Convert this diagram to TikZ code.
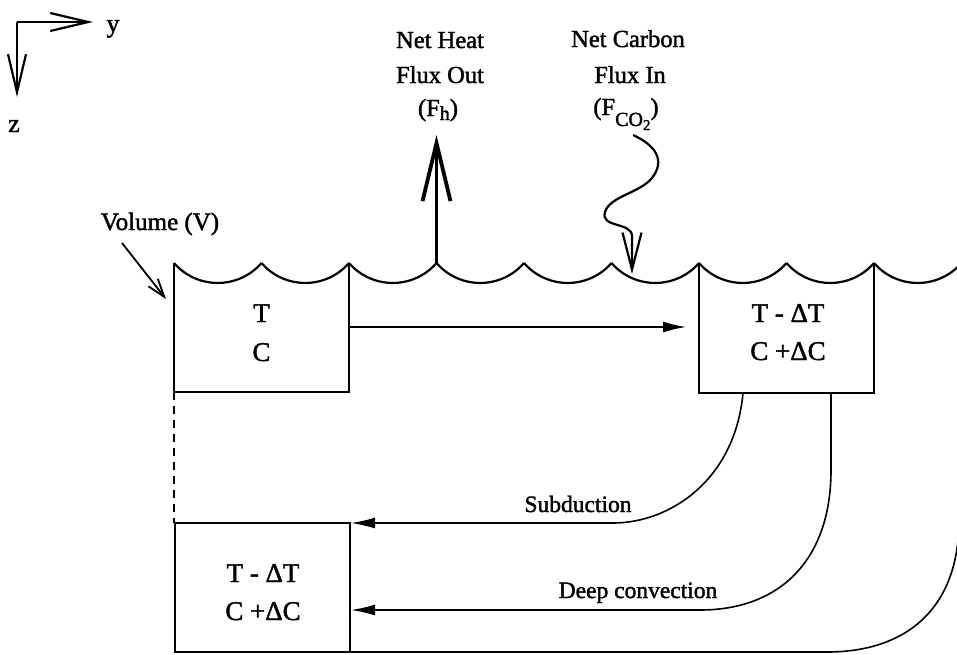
\documentclass[tikz,border=0pt]{standalone}
\usepackage{fontspec}
\setmainfont{Liberation Serif}[BoldFont={Liberation Serif}, BoldFeatures={FakeBold=1.6}]
\usetikzlibrary{arrows.meta}
\tikzset{
  boxline/.style={line width=2.7pt, line join=miter},
  waveline/.style={line width=2.2pt},
  curveline/.style={line width=1.6pt},
  axisarrow/.style={line width=2.2pt, -{Straight Barb[length=38pt,width=18pt]}},
  heatarrow/.style={line width=3.8pt, -{Straight Barb[length=58pt,width=28pt]}},
  carbonarrow/.style={line width=2.2pt, -{Straight Barb[length=37pt,width=19pt]}},
  volarrow/.style={line width=1.8pt, -{Straight Barb[length=18pt,width=12pt]}},
  flowarrow/.style={line width=1.6pt, -{Latex[length=23pt,width=11pt]}},
  toplbl/.style={anchor=base, inner sep=0pt, font=\bfseries\fontsize{24.5}{25}\selectfont},
  boxlbl/.style={anchor=base, inner sep=0pt, font=\bfseries\fontsize{27}{27}\selectfont},
  flowlbl/.style={anchor=base, inner sep=0pt, font=\bfseries\fontsize{23.5}{24}\selectfont},
}
\newcommand{\lowsub}[2]{\raisebox{#1}{\fontsize{20}{20}\selectfont #2}}
\newcommand{\lowsubsub}[2]{\raisebox{#1}{\fontsize{15}{15}\selectfont #2}}
\begin{document}
\begin{tikzpicture}[x=1pt,y=-1pt]
\useasboundingbox (0,0) rectangle (957,654);
\clip (0,0) rectangle (957,654);

% axes
\coordinate (origin) at (17,22);
\coordinate (ytip) at (93,22);
\coordinate (ztip) at (17,97);
\draw[axisarrow] (origin) -- (ytip);
\draw[axisarrow] (origin) -- (ztip);
\node[toplbl, font=\bfseries\fontsize{26}{26}\selectfont] (ylbl) at (113,32) {y};
\node[toplbl, font=\bfseries\fontsize{26}{26}\selectfont] (zlbl) at (14,132) {z};

% sea surface
\foreach \i in {0,...,9} {
  \pgfmathsetmacro{\xa}{174+87.5*\i}
  \draw[waveline] (\xa,263) .. controls (\xa+23.1,289.6) and (\xa+64.4,289.6) .. (\xa+87.5,263);
}
\coordinate (crestheat) at (436.5,263);

% heat flux
\node[toplbl] (heatA) at (440,48) {Net Heat};
\node[toplbl] (heatB) at (440,83) {Flux Out};
\node[toplbl] (heatC) at (438,116) {(F\lowsub{-4pt}{h})};
\coordinate (heattip) at (436.5,135);
\draw[heatarrow] (crestheat) -- (heattip);

% carbon flux
\node[toplbl] (carbA) at (628,47) {Net Carbon};
\node[toplbl] (carbB) at (630,83) {Flux In};
\node[toplbl] (carbC) at (626,115) {(F\lowsub{-11pt}{CO\lowsubsub{-4pt}{2}})};
\coordinate (carbstart) at (633,135);
\coordinate (carbtip) at (632,274);
\draw[carbonarrow] (carbstart) .. controls (655,145) and (666,160) .. (652,178)
   .. controls (640,193) and (610,196) .. (605,212)
   .. controls (600,228) and (632,222) .. (632,236) -- (carbtip);

% volume label
\node[toplbl, font=\bfseries\fontsize{25}{25}\selectfont] (vol) at (160,230) {Volume (V)};
\coordinate (volstart) at (122,243);
\coordinate (voltip) at (166,299);
\draw[volarrow] (volstart) -- (voltip);

% left surface box
\coordinate (Ltl) at (174,263);
\coordinate (Lbl) at (174,392);
\coordinate (Lbr) at (349,392);
\coordinate (Ltr) at (349,263);
\draw[boxline] (Ltl) -- (Lbl) -- (Lbr) -- (Ltr);
\node[boxlbl] (LT) at (261.5,322) {T};
\node[boxlbl] (LC) at (261.5,361) {C};

% right surface box
\coordinate (Rtl) at (699,263);
\coordinate (Rbl) at (699,393);
\coordinate (Rbr) at (874,393);
\coordinate (Rtr) at (874,263);
\draw[boxline] (Rtl) -- (Rbl) -- (Rbr) -- (Rtr);
\node[boxlbl] (RT) at (788,322) {T - ΔT};
\node[boxlbl] (RC) at (788,360) {C +ΔC};

% horizontal advection
\coordinate (advstart) at (349,327);
\coordinate (advtip) at (686,327);
\draw[flowarrow] (advstart) -- (advtip);

% dashed column edge
\coordinate (dashend) at (174,523);
\draw[line width=1.6pt, dash pattern=on 8pt off 6pt] (Lbl) -- (dashend);

% deep box
\coordinate (Dtl) at (175,523);
\coordinate (Dbr) at (350,652);
\draw[boxline] (Dtl) rectangle (Dbr);
\node[boxlbl] (DT) at (263,582) {T - ΔT};
\node[boxlbl] (DC) at (263,620) {C +ΔC};

% subduction
\coordinate (substart) at (743,393);
\coordinate (subtip) at (351,523);
\draw[curveline, -{Latex[length=24pt,width=11pt]}] (substart) .. controls (735,480) and (670,523) .. (613,523) -- (subtip);
\node[flowlbl] (sublbl) at (578,512) {Subduction};

% deep convection
\coordinate (dcstart) at (831,393);
\coordinate (dctip) at (351,610);
\draw[curveline, -{Latex[length=24pt,width=11pt]}] (dcstart) -- (831,470) .. controls (831,560) and (780,610) .. (700,610) -- (dctip);
\node[flowlbl] (dclbl) at (638,598) {Deep convection};

% third return path
\coordinate (farstart) at (959,490);
\coordinate (farend) at (350,652);
\draw[curveline] (farstart) -- (959,520) .. controls (959,610) and (905,652) .. (827,652) -- (farend);
\end{tikzpicture}
\end{document}
